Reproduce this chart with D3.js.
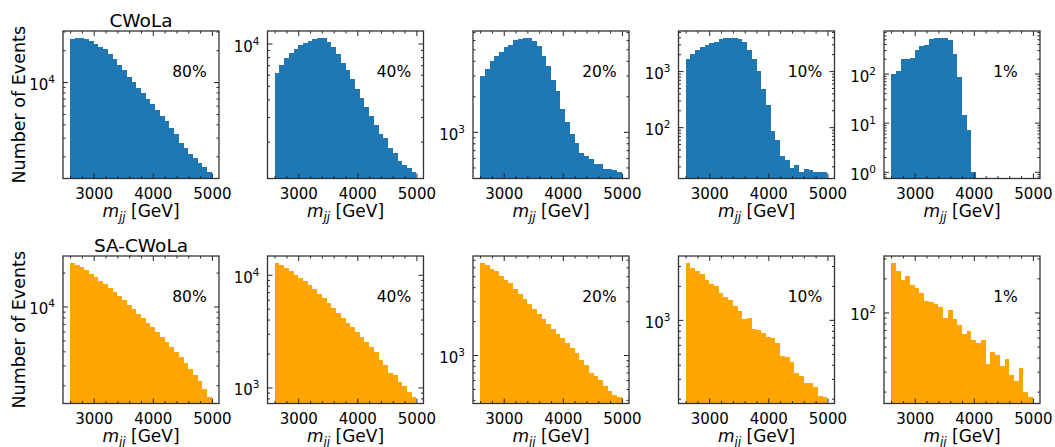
<!DOCTYPE html>
<html>
<head>
<meta charset="utf-8">
<script src="https://cdn.jsdelivr.net/npm/d3@7"></script>
<style>
body{margin:0;background:#fff;}
text{font-family:"DejaVu Sans",sans-serif;fill:#000;}
</style>
</head>
<body>
<svg id="fig" width="1055" height="447"></svg>
<script>
// histogram bins: 30 bins of 80 GeV starting at 2600
const BIN_LO=2600, BIN_W=80;
const effLabels=["80%","40%","20%","10%","1%"];
const rowTitles=["CWoLa","SA-CWoLa"];
const xTicks=[3000,4000,5000];

// CWoLa (top row)
const cwola80=[25600,26200,26200,25600,24400,23000,21600,20400,18300,16400,14400,12900,11200,10000,8850,7820,6970,6160,5410,4780,4260,3660,3260,2680,2400,2120,1910,1730,1580,1430];
const cwola40=[6140,7000,7940,8630,9110,9780,10050,10500,10700,10900,11000,10300,9460,8400,7310,6450,5560,4770,4110,3550,3040,2640,2250,2130,1810,1650,1450,1360,1300,1220];
const cwola20=[2990,3430,4010,4420,4710,5230,5470,5950,6150,6270,6270,5910,5300,4420,3590,2770,2210,1570,1220,968,797,656,623,584,533,533,487,487,471,459];
const cwola10=[1660,1985,2372,2683,2873,3118,3340,3675,3829,3937,3937,3776,3296,2372,1615,1000,484,244,85,60,31,26,19,21,16,18,17,16,16,16];
const cwola1=[100,115,194,194,210,296,363,380,497,521,537,537,474,245,85,14,7,1,0,0,0,0,0,0,0,0,0,0,0,0];

// SA-CWoLa (bottom row)
const sa80=[24470,23490,22250,20920,19540,18250,16920,15700,14560,13420,12360,11310,10340,9470,8660,7930,7200,6550,5950,5410,4880,4400,3980,3540,3130,2770,2450,2180,1860,1580];
const sa40=[12790,12270,11470,10710,10000,9400,8780,8040,7400,6770,6160,5600,5080,4590,4140,3760,3420,3090,2790,2520,2270,2050,1760,1580,1330,1300,1120,1020,915,826];
const sa20=[6590,6240,5750,5520,4980,4590,4370,3820,3490,3150,2850,2570,2290,2090,1890,1700,1540,1410,1270,1150,1040,909,820,687,655,599,526,481,443,426];
const sa10=[3210,2900,2690,2570,2270,2090,1990,1740,1610,1490,1340,1210,1020,1040,832,820,766,701,691,624,481,472,420,335,319,275,278,252,212,208];
const sa1=[275,230,195,208,175,164,149,127,123,119,112,89,105,87,78,64,69,57,54,57,35,45,42,34,39,28,25,32,20,18];

const rows=[[cwola80,cwola40,cwola20,cwola10,cwola1],[sa80,sa40,sa20,sa10,sa1]];
const rowColors=["#1f77b4","#ffa500"];

var svg=d3.select("#fig");
var PW=156, PH=147.5;
var lefts=[63,267.5,473,678.5,884];
var tops=[31,256];

function logDomain(counts){
    let pos=counts.filter(function(c){return c>0});
    let lo=Math.log10(d3.min(pos)), hi=Math.log10(d3.max(pos));
    let pad=0.05*(hi-lo);
    return [Math.pow(10,lo-pad),Math.pow(10,hi+pad)];
}

function minorLog(dom){
    let out=[];
    for(let k=Math.floor(Math.log10(dom[0]));k<=Math.ceil(Math.log10(dom[1]));k++){
        for(let m=2;m<=9;m++){
            let v=m*Math.pow(10,k);
            if(v>=dom[0]&&v<=dom[1]) out.push(v);
        }
    }
    return out;
}
function majorLog(dom){
    let out=[];
    for(let k=Math.floor(Math.log10(dom[0]));k<=Math.ceil(Math.log10(dom[1]));k++){
        let v=Math.pow(10,k);
        if(v>=dom[0]&&v<=dom[1]) out.push(v);
    }
    return out;
}

function drawPanel(r,c){
    let counts=rows[r][c];
    let g=svg.append("g").attr("transform","translate("+lefts[c]+","+tops[r]+")");
    let x=d3.scaleLinear().domain([2480,5120]).range([0,PW]);
    let yDom=logDomain(counts);
    let y=d3.scaleLog().domain(yDom).range([PH,0]);

    let bins=counts.map(function(v,i){return {x0:BIN_LO+i*BIN_W,v:v}})
        .filter(function(d){return d.v>0});
    g.append("g").attr("shape-rendering","crispEdges").selectAll("rect").data(bins).enter().append("rect")
        .attr("x",function(d){return x(d.x0)})
        .attr("width",function(d){return x(d.x0+BIN_W)-x(d.x0)})
        .attr("y",function(d){return y(d.v)})
        .attr("height",function(d){return PH-y(d.v)})
        .attr("fill",rowColors[r]);

    let minX=d3.range(2600,5101,200).filter(function(v){return xTicks.indexOf(v)<0});
    let majY=majorLog(yDom), minY=minorLog(yDom);

    // bottom axis with labels
    let ax=g.append("g").attr("transform","translate(0,"+PH+")")
        .call(d3.axisBottom(x).tickValues(xTicks).tickSize(-5).tickSizeOuter(0).tickPadding(9.5).tickFormat(d3.format("d")));
    ax.select(".domain").remove();
    ax.selectAll("text").style("font-size","15px").style("font-family","DejaVu Sans");
    let axm=g.append("g").attr("transform","translate(0,"+PH+")")
        .call(d3.axisBottom(x).tickValues(minX).tickSize(-2.5).tickSizeOuter(0).tickFormat(""));
    axm.select(".domain").remove();
    // top ticks
    [[xTicks,-5],[minX,-2.5]].forEach(function(t){
        let a=g.append("g").call(d3.axisTop(x).tickValues(t[0]).tickSize(t[1]).tickSizeOuter(0).tickFormat(""));
        a.select(".domain").remove();
    });
    // left axis with 10^k labels
    let ay=g.append("g").call(d3.axisLeft(y).tickValues(majY).tickSize(-5).tickSizeOuter(0).tickPadding(8).tickFormat(""));
    ay.select(".domain").remove();
    ay.selectAll(".tick text").each(function(d){
        let t=d3.select(this).attr("dy","0.5em").style("font-size","15px");
        t.append("tspan").text("10");
        t.append("tspan").attr("dy","-7").style("font-size","10.5px").text(Math.round(Math.log10(d)));
    });
    let aym=g.append("g").call(d3.axisLeft(y).tickValues(minY).tickSize(-2.5).tickSizeOuter(0).tickFormat(""));
    aym.select(".domain").remove();
    // right ticks
    [[majY,-5],[minY,-2.5]].forEach(function(t){
        let a=g.append("g").attr("transform","translate("+PW+",0)")
            .call(d3.axisRight(y).tickValues(t[0]).tickSize(t[1]).tickSizeOuter(0).tickFormat(""));
        a.select(".domain").remove();
    });
    g.selectAll(".tick line").attr("stroke","#222").attr("stroke-width",1);

    // frame
    g.append("rect").attr("width",PW).attr("height",PH)
        .attr("fill","none").attr("stroke","#333").attr("stroke-width",1.3);

    // efficiency label
    g.append("text").attr("x",PW*0.7).attr("y",46).style("font-size","15.5px").text(effLabels[c]);

    // x label m_jj [GeV]
    let xl=g.append("text").attr("x",PW/2).attr("y",PH+38.5).attr("text-anchor","middle").style("font-size","17px");
    xl.append("tspan").style("font-style","italic").text("m");
    xl.append("tspan").style("font-style","italic").style("font-size","12px").attr("dy",4).text("jj");
    xl.append("tspan").attr("dy",-4).text(" [GeV]");

    if(c==0){
        g.append("text").attr("transform","translate("+(-38)+","+(PH/2)+") rotate(-90)")
            .attr("text-anchor","middle").style("font-size","17.5px").text("Number of Events");
        g.append("text").attr("x",PW/2).attr("y",-4.5).attr("text-anchor","middle")
            .style("font-size","18.5px").text(rowTitles[r]);
    }
}

for(let r=0;r<2;r++){
    for(let c=0;c<5;c++){
        drawPanel(r,c);
    }
}
</script>
</body>
</html>
